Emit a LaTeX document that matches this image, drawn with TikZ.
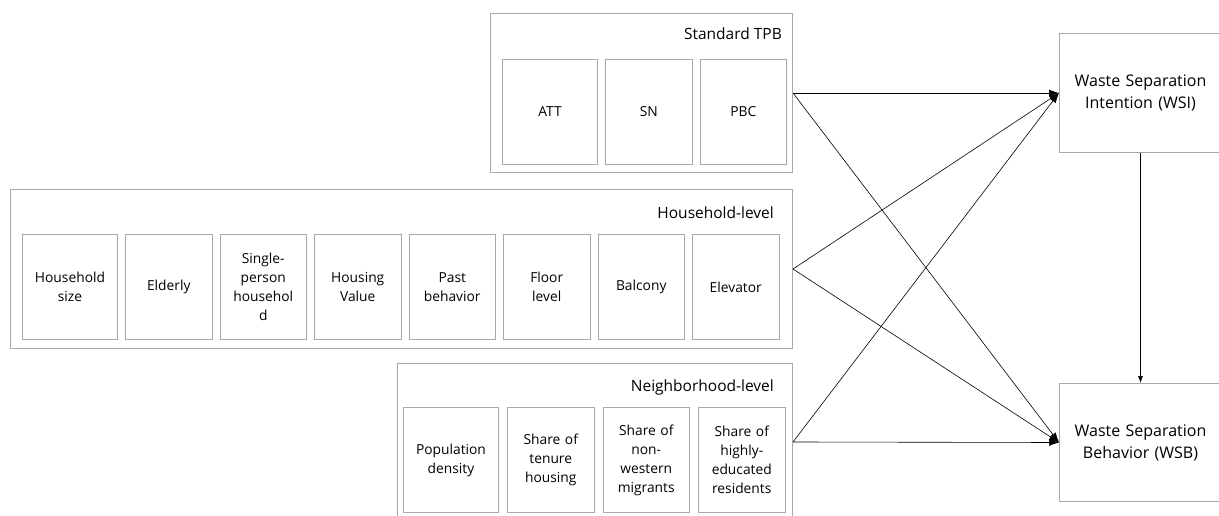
\documentclass[tikz,border=0pt]{standalone}
\usepackage{fontspec}
\setmainfont{Open Sans}
\usepackage{xcolor}
\usepackage{tikz}
\usetikzlibrary{positioning,arrows.meta}
\definecolor{boxgray}{RGB}{168,168,168}

\begin{document}
\begin{tikzpicture}[
    x=1pt, y=-1pt,
    node distance=7pt,
    group/.style={draw=boxgray, line width=1pt, rectangle, anchor=north west, minimum height=159pt, inner sep=0pt},
    grouptitle/.style={anchor=east, inner sep=0pt, font=\fontsize{15.5}{19}\selectfont},
    item/.style={draw=boxgray, line width=1pt, rectangle, minimum width=86.5pt, minimum height=105pt, text width=82pt, inner sep=0pt, align=center, font=\fontsize{13.8}{19}\selectfont},
    firstitem/.style={item, minimum width=95pt, anchor=north west},
    outcome/.style={draw=boxgray, line width=1pt, rectangle, anchor=north west, minimum width=162pt, text width=150pt, inner sep=0pt, align=center, font=\fontsize{16}{22}\selectfont},
    line/.style={draw, -{Latex[length=10pt, width=7pt]}, line width=0.6pt}
]
    \useasboundingbox (0,0) rectangle (1219,516);

    % Groups
    \node[group, minimum width=302pt] (tpb) at (490,13) {};
    \node[grouptitle] (tpbtitle) at ([xshift=-11pt, yshift=-21pt]tpb.north east) {Standard TPB};
    \node[group, minimum width=782pt] (house) at (10,189) {};
    \node[grouptitle] (housetitle) at ([xshift=-19pt, yshift=-24pt]house.north east) {Household-level};
    \node[group, minimum width=395pt, minimum height=157pt] (neigh) at (397,363) {};
    \node[grouptitle] (neightitle) at ([xshift=-19pt, yshift=-24pt]neigh.north east) {Neighborhood-level};

    % Standard TPB
    \node[firstitem] (att) at (502,59) {ATT};
    \node[item, right=of att] (sn) {SN};
    \node[item, right=of sn] (pbc) {PBC};

    % Household-level
    \node[firstitem] (hsize) at (22,234) {Household\\size};
    \node[item, right=of hsize] (elderly) {Elderly};
    \node[item, right=of elderly] (single) {Single-\\person\\househol\\d};
    \node[item, right=of single] (hvalue) {Housing\\Value};
    \node[item, right=of hvalue] (past) {Past\\behavior};
    \node[item, right=of past] (floor) {Floor\\level};
    \node[item, right=of floor] (balcony) {Balcony};
    \node[item, right=of balcony] (elevator) {Elevator};

    % Neighborhood-level
    \node[firstitem] (density) at (403,407) {Population\\density};
    \node[item, right=8pt of density] (tenure) {Share of\\tenure\\housing};
    \node[item, right=8pt of tenure] (migrants) {Share of\\non-\\western\\migrants};
    \node[item, right=8pt of migrants] (educated) {Share of\\highly-\\educated\\residents};

    % Outcomes
    \node[outcome, minimum height=119pt] (wsi) at (1059,33) {Waste Separation\\Intention (WSI)};
    \node[outcome, minimum height=118pt] (wsb) at (1059,383) {Waste Separation\\Behavior (WSB)};

    % Connections
    \draw[line] (tpb.east) -- (wsi.west);
    \draw[line] (tpb.east) -- (wsb.west);
    \draw[line] (house.east) -- (wsi.west);
    \draw[line] (house.east) -- (wsb.west);
    \draw[line] (neigh.east) -- (wsi.west);
    \draw[line] (neigh.east) -- (wsb.west);
    \draw[line, -{Latex[length=7pt, width=5pt]}] (wsi.south) -- (wsb.north);
\end{tikzpicture}
\end{document}
